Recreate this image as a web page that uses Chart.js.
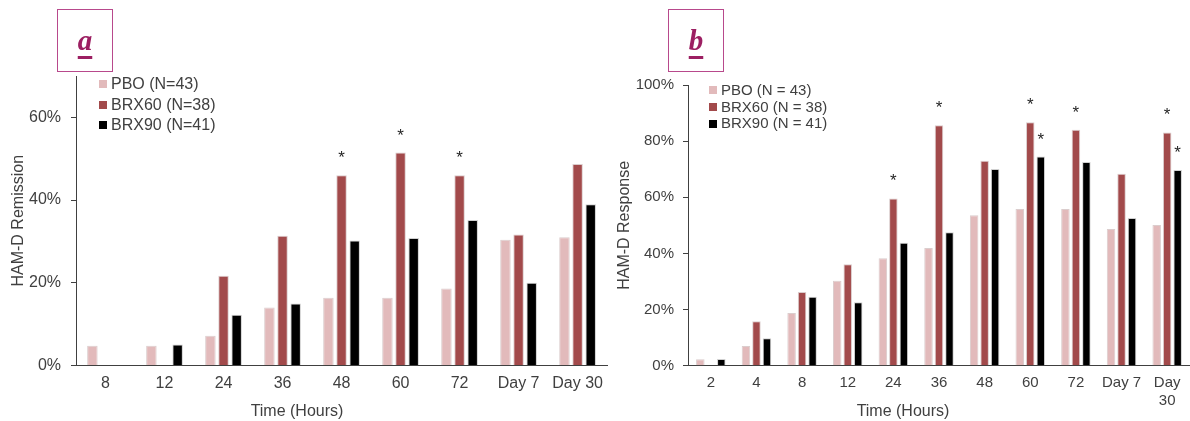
<!DOCTYPE html>
<html>
<head>
<meta charset="utf-8">
<script src="https://cdn.jsdelivr.net/npm/chart.js@4.4.0/dist/chart.umd.min.js"></script>
<style>
  body { margin: 0; width: 1190px; height: 421px; position: relative; background: #fff; overflow: hidden;
         font-family: "Liberation Sans", Arial, sans-serif; color: #404040; }
  canvas { position: absolute; top: 0; }
  .tag { position: absolute; top: 9px; width: 56px; height: 63px; box-sizing: border-box; border: 1.5px solid #b8498c; }
  .tag span { position: absolute; left: 0; right: 0; top: 14px; text-align: center; line-height: 28px;
              font: bold italic 29px "Liberation Serif", "DejaVu Serif", serif; color: #9c1f62;
              text-decoration: underline; text-decoration-thickness: 3px; text-underline-offset: 6px; }
  .legend { position: absolute; }
  .legend div { position: relative; white-space: nowrap; }
  .legend i { position: absolute; left: 0; width: 8px; height: 8px; }
  .xtitle { position: absolute; top: 403px; font-size: 16px; line-height: 16px; transform: translateX(-50%); white-space: nowrap; }
</style>
</head>
<body>
<canvas id="chartA" width="612" height="421" style="left:0"></canvas>
<canvas id="chartB" width="575" height="421" style="left:615px"></canvas>

<div class="tag" style="left:57px"><span>a</span></div>
<div class="tag" style="left:668px"><span>b</span></div>
<div id="legendA" class="legend" style="left:99px; top:74px; font-size:16px"></div>
<div id="legendB" class="legend" style="left:709px; top:82px; font-size:15px"></div>
<div class="xtitle" style="left:297px">Time (Hours)</div>
<div class="xtitle" style="left:903px">Time (Hours)</div>

<script>
// panel a - HAM-D remission (%)
const timesA = ['8', '12', '24', '36', '48', '60', '72', 'Day 7', 'Day 30'];
const pboA   = [4.8, 4.8, 7.2, 14.0, 16.4, 16.4, 18.6, 30.4, 31.0];
const brx60A = [0, 0, 21.7, 31.4, 46.0, 51.5, 46.0, 31.7, 48.7];
const brx90A = [0, 5.1, 12.3, 15.0, 30.2, 30.8, 35.2, 20.0, 39.0];
const starsA60 = [4, 5, 6];
const starsA90 = [];
const namesA = ['PBO (N=43)', 'BRX60 (N=38)', 'BRX90 (N=41)'];
const ticksA = [0, 20, 40, 60];

// panel b - HAM-D response (%)
const timesB = ['2', '4', '8', '12', '24', '36', '48', '60', '72', 'Day 7', ['Day', '30']];
const pboB   = [2.3, 7.0, 18.8, 30.3, 38.3, 41.9, 53.6, 55.8, 55.8, 48.7, 50.1];
const brx60B = [0, 15.8, 26.3, 36.1, 59.6, 85.7, 73.0, 86.7, 84.1, 68.4, 83.1];
const brx90B = [2.4, 9.8, 24.6, 22.6, 43.8, 47.5, 70.1, 74.5, 72.6, 52.6, 69.7];
const starsB60 = [4, 5, 7, 8, 10];
const starsB90 = [7, 10];
const namesB = ['PBO (N = 43)', 'BRX60 (N = 38)', 'BRX90 (N = 41)'];
const ticksB = [0, 20, 40, 60, 80, 100];

const colors = ['#e2babb', '#a24a4b', '#000000'];
const inkColor = '#404040';

Chart.defaults.font.family = '"Liberation Sans", Arial, sans-serif';
Chart.defaults.color = inkColor;

// draws the significance asterisks above flagged bars
const starPlugin = {
  id: 'stars',
  afterDatasetsDraw(chart) {
    const ctx = chart.ctx;
    ctx.save();
    ctx.font = '17px "Liberation Sans", Arial, sans-serif';
    ctx.fillStyle = '#262626';
    ctx.textAlign = 'center';
    ctx.textBaseline = 'alphabetic';
    chart.data.datasets.forEach((ds, di) => {
      const meta = chart.getDatasetMeta(di);
      (ds.stars || []).forEach(i => {
        const bar = meta.data[i];
        ctx.fillText('*', bar.x, bar.y - 12);
      });
    });
    ctx.restore();
  }
};

function makeSets(names, series, stars) {
  return series.map((vals, k) => ({
    label: names[k],
    data: vals,
    stars: stars[k],
    backgroundColor: colors[k],
    borderColor: k == 2 ? '#d0d0d0' : 'rgba(215,200,200,0.9)',
    borderWidth: 1,
    borderSkipped: 'bottom'
  }));
}

function makeLegend(id, names, rowHeight) {
  const el = document.getElementById(id);
  names.forEach((name, k) => {
    const row = document.createElement('div');
    row.style.height = rowHeight + 'px';
    row.style.lineHeight = rowHeight + 'px';
    row.style.paddingLeft = '12px';
    row.innerHTML = `<i style="background:${colors[k]}; top:${rowHeight / 2 - 4}px"></i>${name}`;
    el.appendChild(row);
  });
}

function makeChart(canvasId, labels, datasets, cfg) {
  return new Chart(document.getElementById(canvasId), {
    type: 'bar',
    data: { labels, datasets },
    options: {
      responsive: false,
      animation: false,
      devicePixelRatio: 1,
      layout: { padding: cfg.padding },
      plugins: { legend: { display: false }, tooltip: { enabled: false } },
      datasets: { bar: { categoryPercentage: cfg.catPct, barPercentage: cfg.barPct } },
      scales: {
        x: {
          grid: { display: false, drawTicks: false },
          border: { color: inkColor, width: 1 },
          ticks: { color: inkColor, font: { size: cfg.fontSize, lineHeight: 1.15 }, padding: 9, maxRotation: 0, autoSkip: false },
          afterFit: s => { s.height = 40; }
        },
        y: {
          min: 0,
          max: cfg.max,
          afterBuildTicks: s => { s.ticks = cfg.ticks.map(v => ({ value: v })); },
          ticks: { color: inkColor, font: { size: cfg.fontSize }, padding: cfg.tickPad, callback: v => v + '%' },
          grid: { drawOnChartArea: false, drawTicks: true, tickLength: 5, color: inkColor },
          border: { color: inkColor, width: 1 },
          title: { display: true, text: cfg.yTitle, color: inkColor, font: { size: 16 }, padding: { top: cfg.titlePad, bottom: 0 } },
          afterFit: s => { s.width = cfg.yWidth; }
        }
      }
    },
    plugins: [starPlugin]
  });
}

makeChart('chartA', timesA,
  makeSets(namesA, [pboA, brx60A, brx90A], [[], starsA60, starsA90]), {
    padding: { left: 0, right: 1.3, top: 76, bottom: 15.5 },
    catPct: 0.667, barPct: 0.8, fontSize: 16, max: 70, ticks: ticksA,
    tickPad: 10, yTitle: 'HAM-D Remission', titlePad: 9.4, yWidth: 76
  });

makeChart('chartB', timesB,
  makeSets(namesB, [pboB, brx60B, brx90B], [[], starsB60, starsB90]), {
    padding: { left: 0, right: 0, top: 85, bottom: 15.3 },
    catPct: 0.69, barPct: 0.81, fontSize: 15, max: 100, ticks: ticksB,
    tickPad: 9, yTitle: 'HAM-D Response', titlePad: 0, yWidth: 73
  });

makeLegend('legendA', namesA, 20.5);
makeLegend('legendB', namesB, 16.7);
</script>
</body>
</html>
